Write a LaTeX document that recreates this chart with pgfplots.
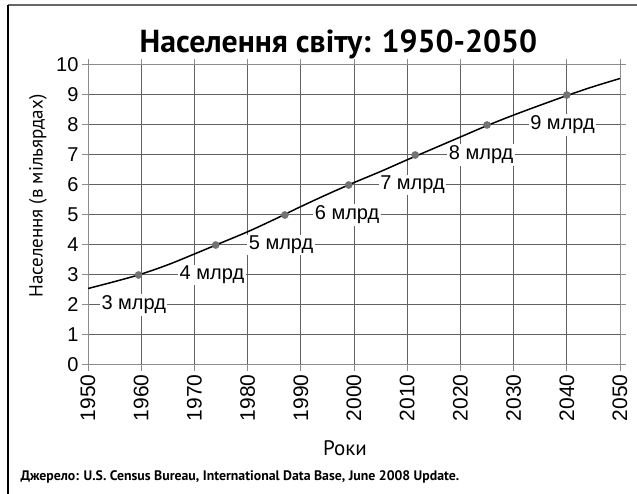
\documentclass[border=0pt]{standalone}
\usepackage{fontspec}
\setmainfont{Liberation Sans}
\newfontfamily\ptsans{PT Sans}
\usepackage{pgfplots}
\pgfplotsset{compat=1.18}
\begin{document}
\begin{tikzpicture}[x=1pt,y=1pt]
\path[use as bounding box] (0,0) rectangle (637,494);
\draw[black!60, line width=2.5pt] (8,489) -- (637,489);
\draw[black, line width=1.5pt] (8,0) -- (8,489);
\begin{axis}[at={(88pt,129pt)}, anchor=south west, scale only axis,
  width=532pt, height=300pt,
  xmin=1950, xmax=2050, ymin=0, ymax=10,
  xtick={1950,1960,...,2050}, ytick={0,1,...,10},
  grid=major, grid style={black!62, line width=1pt},
  axis line style={black!45, line width=1pt},
  tick style={black!45, line width=1pt},
  tick align=outside, major tick length=6pt,
  /pgf/number format/assume math mode=true,
  /pgf/number format/1000 sep={},
  x tick label style={rotate=90, anchor=east, font=\fontsize{21}{21}\selectfont},
  y tick label style={font=\fontsize{20}{20}\selectfont},
  clip=false]
\addplot[black, line width=1.5pt, smooth] coordinates {
(1950,2.55) (1955,2.78) (1960,3.03) (1965,3.34) (1970,3.70) (1975,4.07)
(1980,4.44) (1985,4.85) (1990,5.28) (1995,5.69) (2000,6.08) (2005,6.45)
(2010,6.84) (2015,7.22) (2020,7.60) (2025,7.98) (2030,8.33) (2035,8.66)
(2040,8.98) (2045,9.28) (2050,9.55)};
\addplot[only marks, mark=*, mark size=3.6pt, draw=black!55, fill=black!55] coordinates {
(1959.5,3) (1974,4) (1987,5) (1999,6) (2011.5,7) (2025,8) (2040,9)};
\begin{scope}[every node/.style={fill=white, inner sep=1.5pt, font=\fontsize{20}{20}\selectfont}]
\node at (axis cs:1958.6,2) {3 млрд};
\node at (axis cs:1973.3,3) {4 млрд};
\node at (axis cs:1986.3,4) {5 млрд};
\node at (axis cs:1998.7,5) {6 млрд};
\node at (axis cs:2011,6) {7 млрд};
\node at (axis cs:2023.9,7) {8 млрд};
\node at (axis cs:2039.2,8) {9 млрд};
\end{scope}
\end{axis}
\node[anchor=base, font=\ptsans\bfseries\fontsize{31.8}{32}\selectfont] at (338.5,441) {Населення світу: 1950-2050};
\node[font=\ptsans\fontsize{21}{21}\selectfont] at (345,46) {Роки};
\node[rotate=90, font=\ptsans\fontsize{19}{19}\selectfont] at (38,298) {Населення (в мільярдах)};
\node[anchor=west, font=\ptsans\bfseries\fontsize{13.8}{14}\selectfont] at (17,17) {Джерело: U.S. Census Bureau, International Data Base, June 2008 Update.};
\end{tikzpicture}
\end{document}
